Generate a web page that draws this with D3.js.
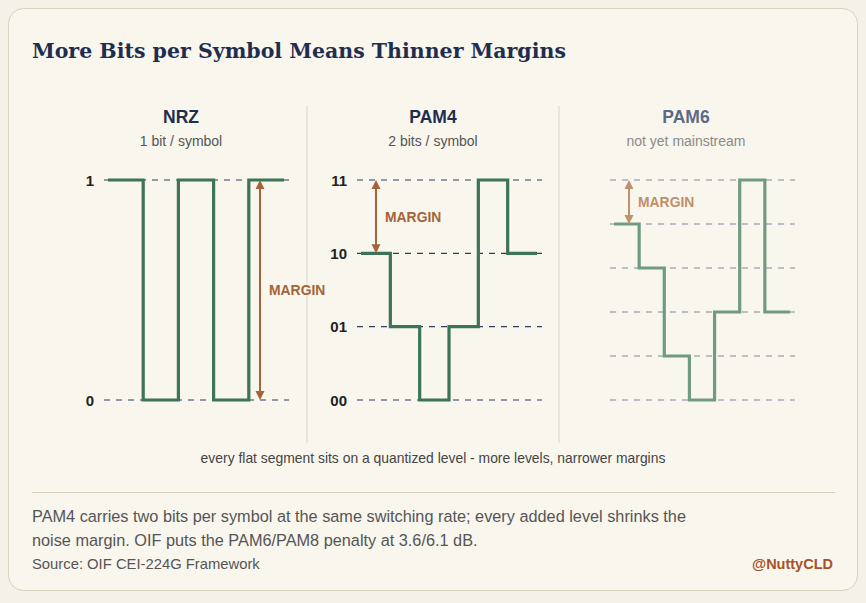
<!DOCTYPE html>
<html>
<head>
<meta charset="utf-8">
<script src="https://cdn.jsdelivr.net/npm/d3@7"></script>
<style>
  html, body { margin: 0; padding: 0; background: #f4f1e8; }
  svg { display: block; }
</style>
</head>
<body>
<div id="chart"></div>
<script>
// data
const panelNames = ["NRZ", "PAM4", "PAM6"];
const panelSubtitles = ["1 bit / symbol", "2 bits / symbol", "not yet mainstream"];
const nrzLevels = ["0", "1"];
const nrzSymbols = [1, 0, 1, 0, 1];
const pam4Levels = ["00", "01", "10", "11"];
const pam4Symbols = [2, 1, 0, 1, 3, 2];
const pam6Levels = ["", "", "", "", "", ""];
const pam6Symbols = [4, 3, 1, 0, 2, 5, 2];
const marginLabel = "MARGIN";

const width = 866;
const height = 603;
const sans = "'Liberation Sans', Arial, sans-serif";

const svg = d3.select("#chart")
  .append("svg")
  .attr("width", width)
  .attr("height", height);

// card
svg.append("rect")
  .attr("x", 8.5).attr("y", 8.5)
  .attr("width", 849).attr("height", 582)
  .attr("rx", 15)
  .attr("fill", "#f9f6ee")
  .attr("stroke", "#d8d2c0");

svg.append("text")
  .attr("x", 32).attr("y", 58)
  .attr("font-family", "'DejaVu Serif', Georgia, serif")
  .attr("font-weight", "bold")
  .attr("font-size", 20.5)
  .attr("fill", "#1f2e4f")
  .text("More Bits per Symbol Means Thinner Margins");

// dividers between panels
[307, 559].forEach(x => {
  svg.append("line")
    .attr("x1", x).attr("x2", x)
    .attr("y1", 106).attr("y2", 443)
    .attr("stroke", "#dad5c6");
});

const panels = [
  { levels: nrzLevels, symbols: nrzSymbols, center: 181, x0: 108, arrowX: 260, marginTop: 1, faded: false },
  { levels: pam4Levels, symbols: pam4Symbols, center: 433, x0: 361, arrowX: 376, marginTop: 3, faded: false },
  { levels: pam6Levels, symbols: pam6Symbols, center: 686, x0: 614, arrowX: 629, marginTop: 5, faded: true }
];

const brown = "#a5633a";
const green = "#3d7356";

panels.forEach((p, i) => {
  const g = svg.append("g");

  g.append("text")
    .attr("x", p.center).attr("y", 123)
    .attr("text-anchor", "middle")
    .attr("font-family", sans)
    .attr("font-weight", "bold")
    .attr("font-size", 17.5)
    .attr("fill", p.faded ? "#5d6a85" : "#1f2e4f")
    .text(panelNames[i]);

  g.append("text")
    .attr("x", p.center).attr("y", 146)
    .attr("text-anchor", "middle")
    .attr("font-family", sans)
    .attr("font-size", 14)
    .attr("fill", p.faded ? "#8c8a86" : "#555")
    .text(panelSubtitles[i]);

  const x = d3.scaleLinear()
    .domain([0, p.symbols.length])
    .range([p.x0, p.x0 + 176]);

  const y = d3.scaleLinear()
    .domain([0, p.levels.length - 1])
    .range([400, 180]);

  // quantized levels
  const levelIdx = d3.range(p.levels.length);
  g.selectAll(".level")
    .data(levelIdx)
    .join("line")
    .attr("x1", p.x0 - 4).attr("x2", p.x0 + 181)
    .attr("y1", d => y(d)).attr("y2", d => y(d))
    .attr("stroke", p.faded ? "#7d879e" : "#2f3d63")
    .attr("stroke-width", 1.2)
    .attr("stroke-dasharray", "6,6");

  g.selectAll(".lvl-label")
    .data(levelIdx)
    .join("text")
    .attr("x", p.x0 - 14).attr("y", d => y(d) + 5.5)
    .attr("text-anchor", "end")
    .attr("font-family", sans)
    .attr("font-weight", "bold")
    .attr("font-size", 15)
    .attr("fill", "#222")
    .text(d => p.levels[d]);

  // step waveform
  const pts = [];
  p.symbols.forEach((s, k) => {
    pts.push([x(k), y(s)]);
    pts.push([x(k + 1), y(s)]);
  });
  g.append("path")
    .attr("d", d3.line()(pts))
    .attr("fill", "none")
    .attr("stroke", p.faded ? "#709b82" : green)
    .attr("stroke-width", 3.2)
    .attr("stroke-linejoin", "miter");

  // margin arrow
  const col = p.faded ? "#c0906a" : brown;
  const yTop = y(p.marginTop);
  const yBot = y(p.marginTop - 1);
  g.append("line")
    .attr("x1", p.arrowX).attr("x2", p.arrowX)
    .attr("y1", yTop + 6).attr("y2", yBot - 6)
    .attr("stroke", col)
    .attr("stroke-width", 2);
  g.append("path")
    .attr("d", `M${p.arrowX},${yTop} l-4.5,9 l9,0 Z M${p.arrowX},${yBot} l-4.5,-9 l9,0 Z`)
    .attr("fill", col);
  g.append("text")
    .attr("x", p.arrowX + 9).attr("y", (yTop + yBot) / 2 + 5)
    .attr("font-family", sans)
    .attr("font-weight", "bold")
    .attr("font-size", 13.9)
    .attr("fill", col)
    .text(marginLabel);
});

svg.append("text")
  .attr("x", 433).attr("y", 463)
  .attr("text-anchor", "middle")
  .attr("font-family", sans)
  .attr("font-size", 13.9)
  .attr("fill", "#444")
  .text("every flat segment sits on a quantized level - more levels, narrower margins");

svg.append("line")
  .attr("x1", 32).attr("x2", 835)
  .attr("y1", 492.5).attr("y2", 492.5)
  .attr("stroke", "#d6d0bf");

const notes = [
  "PAM4 carries two bits per symbol at the same switching rate; every added level shrinks the",
  "noise margin. OIF puts the PAM6/PAM8 penalty at 3.6/6.1 dB."
];
notes.forEach((t, i) => {
  svg.append("text")
    .attr("x", 32).attr("y", 522 + i * 23.5)
    .attr("font-family", sans)
    .attr("font-size", 16.3)
    .attr("fill", "#555")
    .text(t);
});

svg.append("text")
  .attr("x", 32).attr("y", 568.5)
  .attr("font-family", sans)
  .attr("font-size", 14.8)
  .attr("fill", "#555")
  .text("Source: OIF CEI-224G Framework");

svg.append("text")
  .attr("x", 833).attr("y", 568.5)
  .attr("text-anchor", "end")
  .attr("font-family", sans)
  .attr("font-weight", "bold")
  .attr("font-size", 14.5)
  .attr("fill", "#a8522a")
  .text("@NuttyCLD");
</script>
</body>
</html>
